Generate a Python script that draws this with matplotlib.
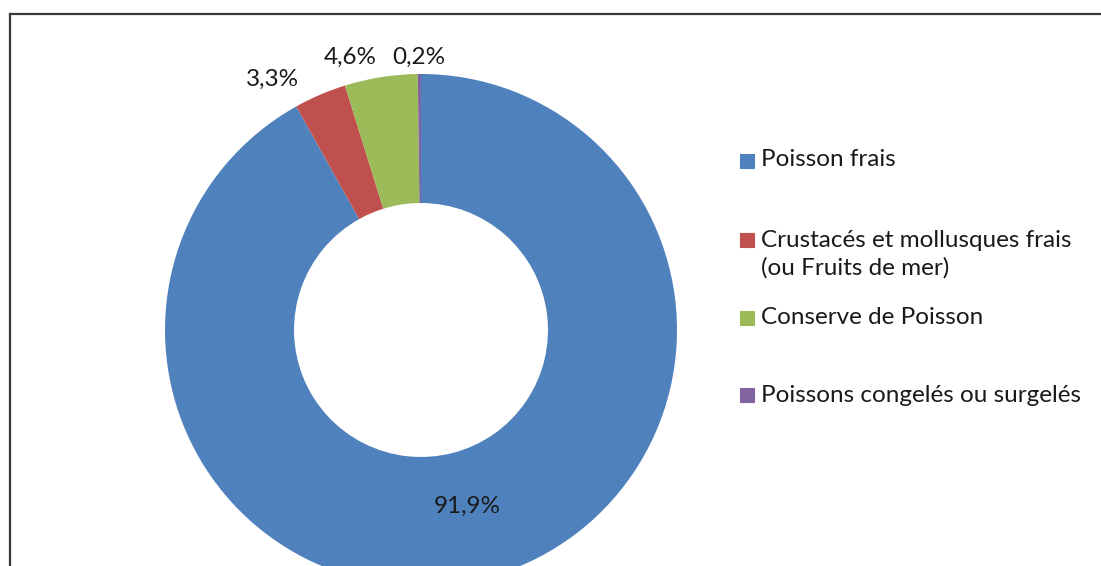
import numpy as np
import matplotlib.pyplot as plt
from matplotlib.lines import Line2D
from matplotlib.patches import Rectangle

# parts of the donut (percent), clockwise from 12 o'clock
categories = ['Poisson frais',
              'Crustacés et mollusques frais\n(ou Fruits de mer)',
              'Conserve de Poisson',
              'Poissons congelés ou surgelés']
shares = [91.9, 3.3, 4.6, 0.2]
share_labels = ['91,9%', '3,3%', '4,6%', '0,2%']
colors = ['#4F81BD', '#C0504D', '#9BBB59', '#8064A2']

W, H = 1101, 566
plt.rcParams['font.family'] = ['Lato', 'DejaVu Sans']

fig = plt.figure(figsize=(W / 100, H / 100), dpi=100)

# donut: centre (421, 330) px, outer radius 256 px
cx, cy, r = 421, 330, 256
ax = fig.add_axes([(cx - r) / W, (H - cy - r) / H, 2 * r / W, 2 * r / H])
wedges, _ = ax.pie(shares, colors=colors, startangle=90, counterclock=False,
                   radius=1, wedgeprops=dict(width=0.504, edgecolor='none'))
ax.set_xlim(-1, 1)
ax.set_ylim(-1, 1)
ax.set_aspect('equal')
ax.axis('off')

# label placement: (extra angle shift in degrees, radius) for each slice
label_place = [(0, 0.71), (7.4, 1.14), (5.5, 1.10), (0, 1.064)]
for w, txt, (shift, rr) in zip(wedges, share_labels, label_place):
    ang = np.deg2rad((w.theta1 + w.theta2) / 2 + shift)
    ax.text(rr * np.cos(ang), rr * np.sin(ang), txt, ha='center', va='center',
            fontsize=17.5, color='#1a1a1a', clip_on=False)

# legend drawn at Excel's spots (square y, text block centre y)
leg_sq = [161, 240, 318, 395]
leg_txt = [160, 254, 318, 395]
for cat, col, ys, yt in zip(categories, colors, leg_sq, leg_txt):
    fig.add_artist(Rectangle((739.5 / W, (H - ys - 7) / H), 14 / W, 14 / H,
                             transform=fig.transFigure, facecolor=col,
                             edgecolor=col, linewidth=0.8))
    fig.text(761 / W, (H - yt) / H, cat, ha='left', va='center',
             fontsize=17.5, color='#1a1a1a', linespacing=1.33)

# chart frame (top and left edges visible)
fig.add_artist(Line2D([10 / W, 10 / W], [0, (H - 14.3) / H], transform=fig.transFigure,
                      color='#3a3a3a', linewidth=1.6))
fig.add_artist(Line2D([10 / W, 1], [(H - 14.3) / H, (H - 14.3) / H], transform=fig.transFigure,
                      color='#3a3a3a', linewidth=1.6))

fig.savefig('out.png', dpi=100)
